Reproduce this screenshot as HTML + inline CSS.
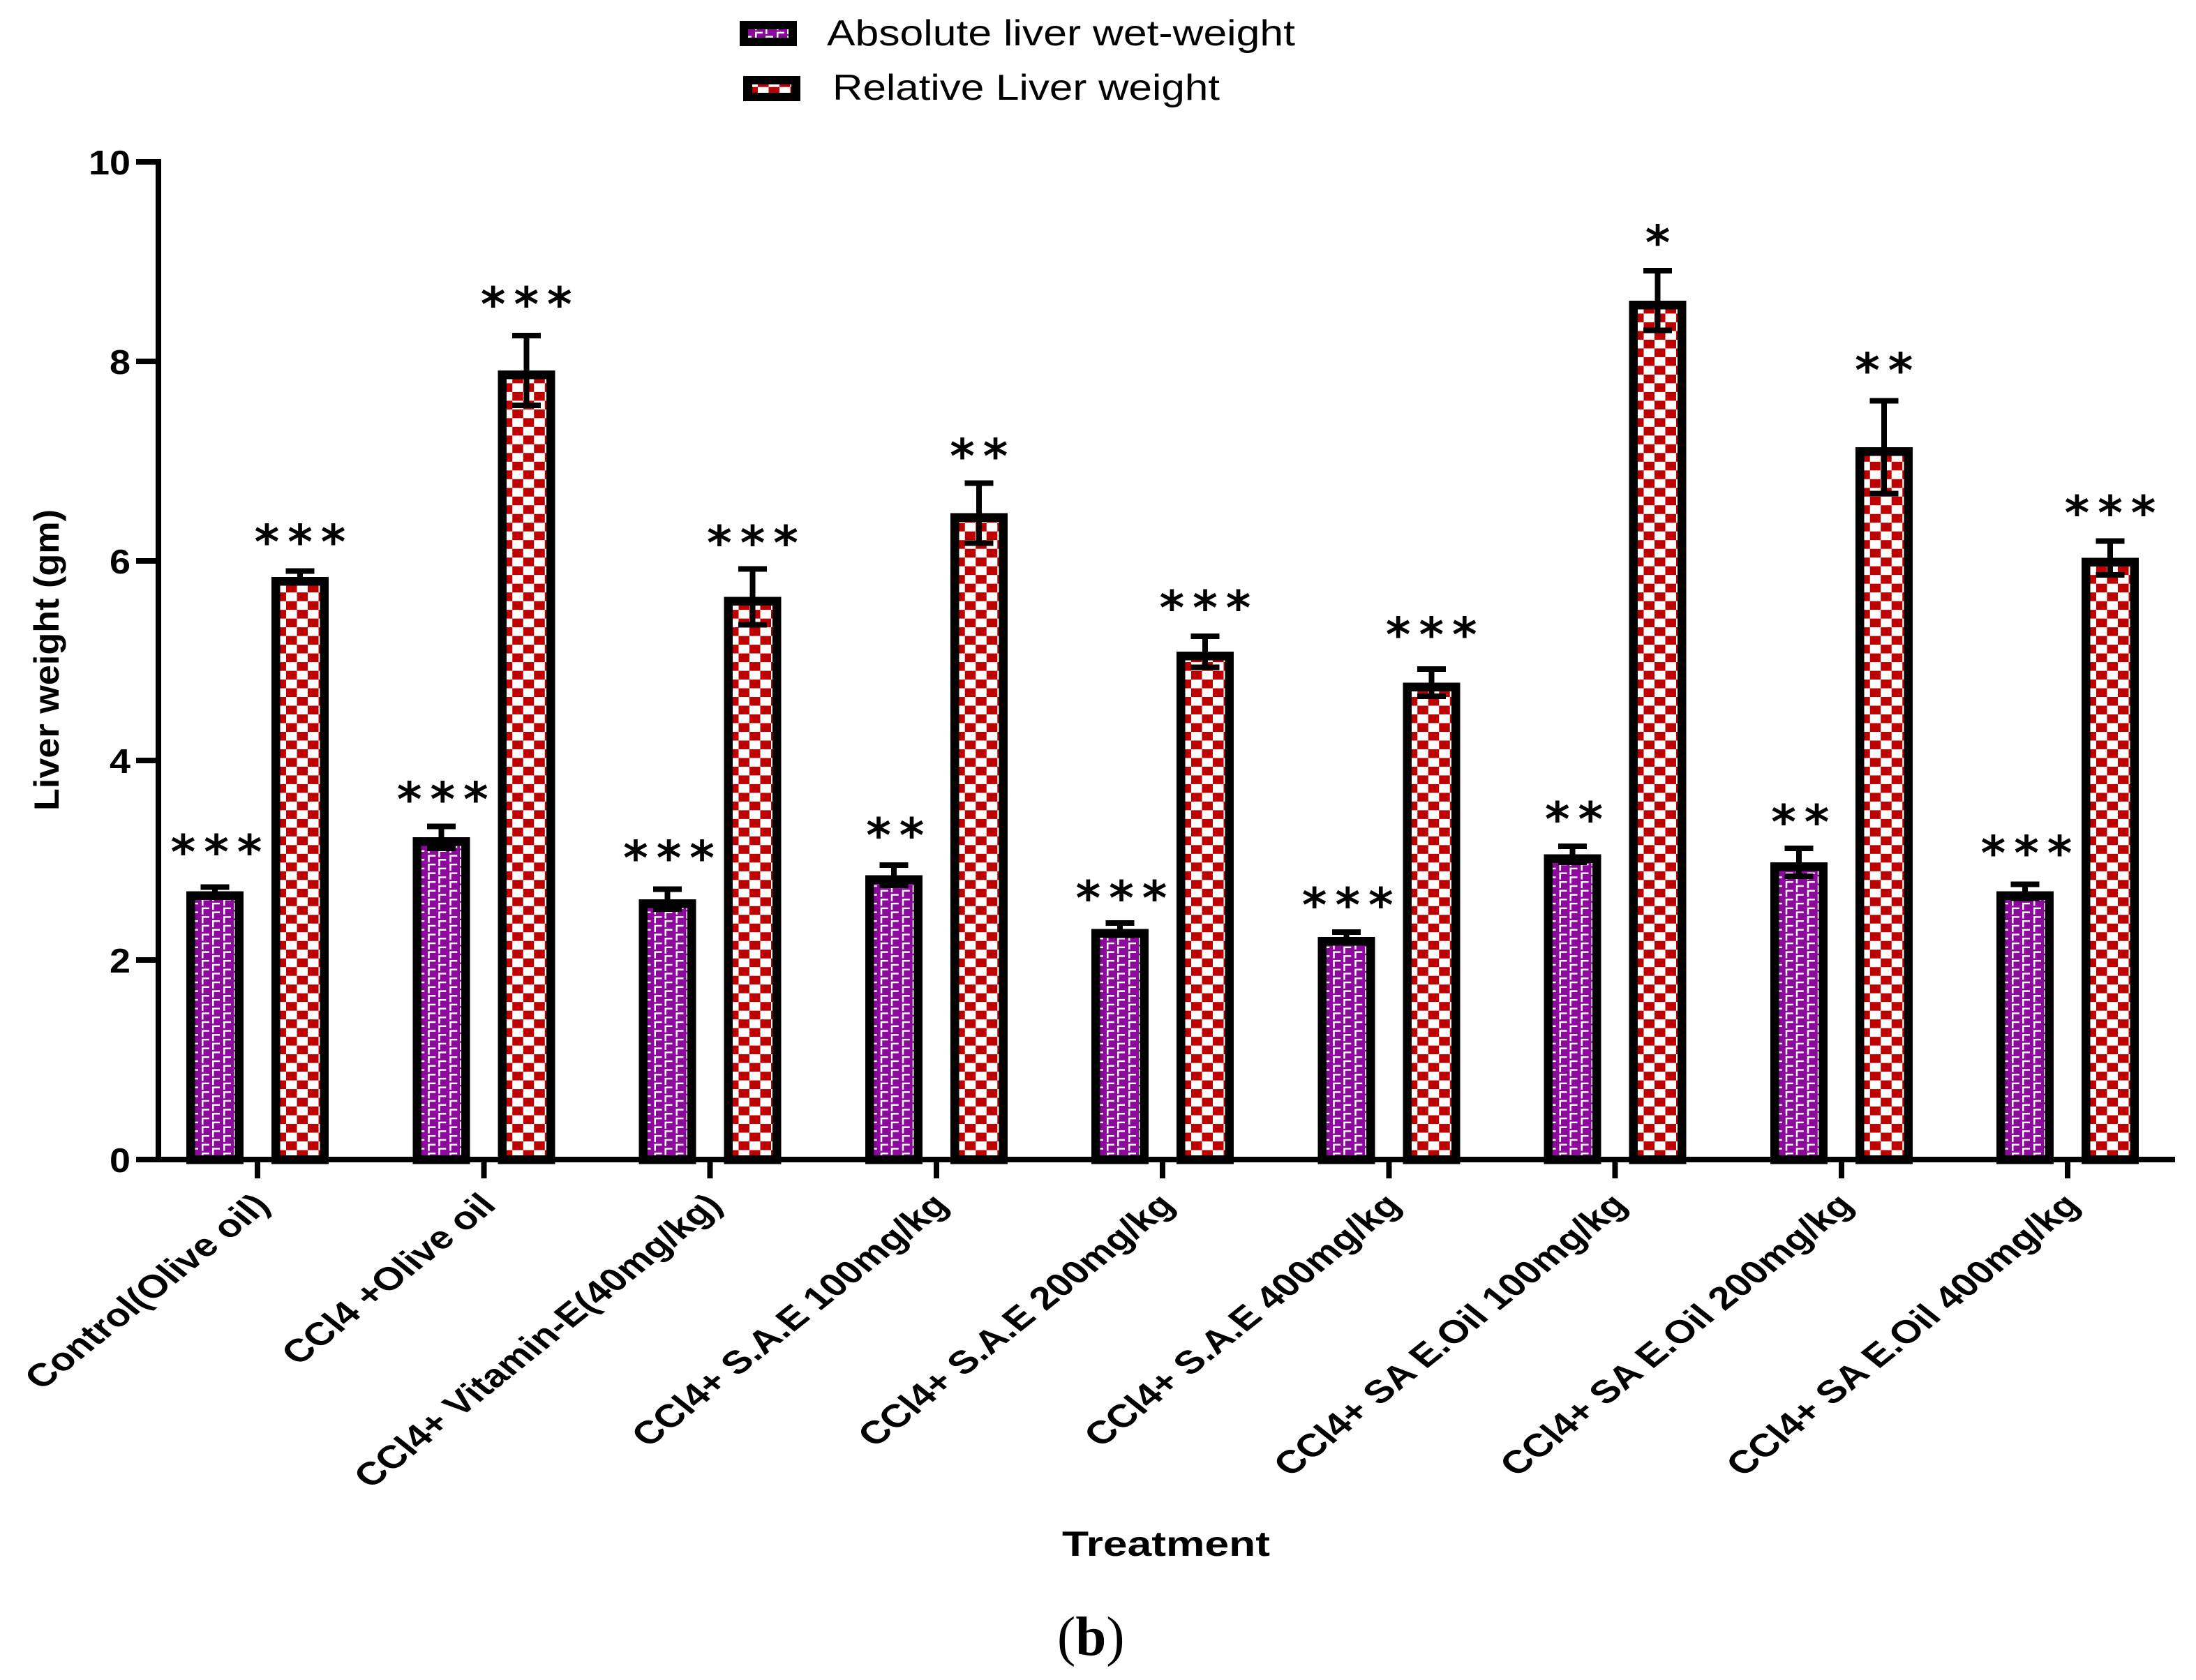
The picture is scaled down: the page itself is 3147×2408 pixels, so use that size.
<!DOCTYPE html>
<html>
<head>
<meta charset="utf-8">
<title>Liver weight chart</title>
<style>
html,body{margin:0;padding:0;background:#fff;}
svg{display:block;}
text{fill:#000;font-family:"Liberation Sans",sans-serif;}
</style>
</head>
<body>
<svg id="chart" xmlns="http://www.w3.org/2000/svg" width="3147" height="2408" viewBox="0 0 3147 2408" shape-rendering="crispEdges">
<defs>
<pattern id="pat-purple" patternUnits="userSpaceOnUse" x="22" y="1589.3" width="31" height="12.55">
<rect width="31" height="12.55" fill="#8b0a9c"/>
<path d="M0 0h11v2.2h-8.4v7.8h-2.6z" fill="#fff"/>
<path d="M15 6h11v2.4h-8.4v4.15h-2.6z" fill="#fff"/>
<path d="M15 0h2.6v3.5h-2.6z" fill="#fff"/>
</pattern>
<pattern id="pat-red" patternUnits="userSpaceOnUse" x="5.5" y="1648.5" width="31" height="24.98">
<rect width="31" height="24.98" fill="#fff"/>
<rect x="0" y="0" width="15.5" height="12.49" fill="#bd0000"/>
<rect x="15.5" y="12.49" width="15.5" height="12.49" fill="#bd0000"/>
</pattern>
</defs>
<rect width="3147" height="2408" fill="#fff"/>

<g>
<g>
<rect x="1060" y="30" width="82" height="36" fill="#000"/>
<g transform="translate(1060,0)"><rect x="12" y="42" width="58" height="12" fill="url(#pat-purple)"/></g>
<text x="1185" y="65" font-size="52" textLength="671" lengthAdjust="spacingAndGlyphs">Absolute liver wet-weight</text>
</g>
<g>
<rect x="1065" y="109" width="82" height="36" fill="#000"/>
<g transform="translate(1065,0)"><rect x="13" y="121" width="56" height="12" fill="url(#pat-red)"/></g>
<text x="1193" y="143" font-size="52" textLength="555" lengthAdjust="spacingAndGlyphs">Relative Liver weight</text>
</g>
</g>

<g id="bars"></g>
<g id="axes"></g>
<g id="annotations"></g>

<text transform="translate(84,1162) rotate(-90)" font-size="50" font-weight="700" textLength="432" lengthAdjust="spacingAndGlyphs">Liver weight (gm)</text>
<text x="1522" y="2230" font-size="50" font-weight="700" textLength="298" lengthAdjust="spacingAndGlyphs">Treatment</text>
<text x="1515" y="2372" font-size="79" style="font-family:'Liberation Serif',serif">(<tspan font-weight="700">b</tspan>)</text>
</svg>

<script>
const categories = ["Control(Olive oil)", "CCl4 +Olive oil", "CCl4+ Vitamin-E(40mg/kg)", "CCl4+ S.A.E 100mg/kg", "CCl4+ S.A.E 200mg/kg", "CCl4+ S.A.E 400mg/kg", "CCl4+ SA E.Oil 100mg/kg", "CCl4+ SA E.Oil 200mg/kg", "CCl4+ SA E.Oil 400mg/kg"];
const absoluteValues = [2.69, 3.23, 2.61, 2.85, 2.31, 2.23, 3.06, 2.98, 2.69];
const absoluteErrors = [0.04, 0.11, 0.1, 0.1, 0.06, 0.05, 0.08, 0.14, 0.07];
const relativeValues = [5.84, 7.91, 5.64, 6.48, 5.09, 4.78, 8.61, 7.14, 6.03];
const relativeErrors = [0.06, 0.35, 0.28, 0.3, 0.155, 0.135, 0.3, 0.465, 0.17];
const absoluteStars = ["***", "***", "***", "**", "***", "***", "**", "**", "***"];
const relativeStars = ["***", "***", "***", "**", "***", "***", "*", "**", "***"];
const absoluteStarLevels = [3.16, 3.69, 3.1, 3.33, 2.7, 2.63, 3.49, 3.46, 3.15];
const relativeStarLevels = [6.27, 8.65, 6.26, 7.13, 5.61, 5.34, 9.27, 7.99, 6.56];
const yTicks = [0, 2, 4, 6, 8, 10];

const NS = "http://www.w3.org/2000/svg";
function yScale(v) { return 1662 - 143 * v; }
function xScale(i) { return 369 + 324.25 * i; }
function make(tag, parent) {
  const el = document.createElementNS(NS, tag);
  parent.appendChild(el);
  return el;
}
function box(parent, x, y, w, h) {
  const r = make("rect", parent);
  r.setAttribute("x", x);
  r.setAttribute("y", y);
  r.setAttribute("width", w);
  r.setAttribute("height", h);
  r.setAttribute("fill", "#000");
  return r;
}
const barsG = document.getElementById("bars");
const axesG = document.getElementById("axes");
const annG = document.getElementById("annotations");
const BASE = yScale(0);

function drawBar(i, offset, value, err, patId, name) {
  const left = xScale(i) + offset;
  const top = yScale(value);
  const g = make("g", barsG);
  
  
  g.setAttribute("transform", "translate(" + left + ",0)");
  const r = make("rect", g);
  
  
  r.setAttribute("x", 6.25);
  r.setAttribute("y", top + 6.25);
  r.setAttribute("width", 69.5);
  r.setAttribute("height", BASE - top - 6.25);
  r.setAttribute("fill", "url(#" + patId + ")");
  r.setAttribute("stroke", "#000");
  r.setAttribute("stroke-width", 12.5);
  const hi = yScale(value + err);
  const lo = yScale(value - err);
  const stem = box(g, 37, hi, 8, lo - hi);
  
  
  const capT = box(g, 20.5, hi - 4, 41, 8);
  
  
  const capB = box(g, 20.5, lo - 4, 41, 8);
  
  
}
function drawStars(i, offset, level, stars, name) {
  const t = make("text", annG);
  
  
  t.setAttribute("x", xScale(i) + offset);
  t.setAttribute("y", yScale(level) + 35);
  t.setAttribute("text-anchor", "middle");
  t.setAttribute("font-size", "68");
  t.setAttribute("letter-spacing", "12");
  t.setAttribute("font-weight", "700");
  t.setAttribute("style", "font-family:'DejaVu Sans',sans-serif");
  t.textContent = stars;
}
categories.forEach(function (c, i) {
  drawBar(i, -102, absoluteValues[i], absoluteErrors[i], "pat-purple", "bar-absolute-" + (i + 1));
  drawBar(i, 20, relativeValues[i], relativeErrors[i], "pat-red", "bar-relative-" + (i + 1));
  drawStars(i, -53, absoluteStarLevels[i], absoluteStars[i], "stars-absolute-" + (i + 1));
  drawStars(i, 67, relativeStarLevels[i], relativeStars[i], "stars-relative-" + (i + 1));
});

const yAxisLine = box(axesG, 223, yScale(10) - 4, 8, BASE - yScale(10) + 8);


const xAxisLine = box(axesG, 195, BASE - 4, 3117 - 195, 8);



yTicks.forEach(function (v) {
  const tk = box(axesG, 195, yScale(v) - 4, 28, 8);
  
  
  const t = make("text", axesG);
  
  
  const label = String(v);
  t.setAttribute("x", 187 - 30 * label.length);
  t.setAttribute("y", yScale(v) + 18);
  t.setAttribute("font-size", "49");
  t.setAttribute("font-weight", "700");
  t.setAttribute("textLength", 30 * label.length);
  t.setAttribute("lengthAdjust", "spacingAndGlyphs");
  t.textContent = label;
});

categories.forEach(function (c, i) {
  const tk = box(axesG, xScale(i) - 4, BASE + 4, 8, 23);
  
  
  const t = make("text", axesG);
  
  
  t.setAttribute("transform", "translate(" + (xScale(i) + 20) + "," + (BASE + 68) + ") scale(1.25,1) rotate(-45)");
  t.setAttribute("text-anchor", "end");
  t.setAttribute("font-size", "46");
  t.setAttribute("font-weight", "700");
  t.textContent = c;
});
</script>
</body>
</html>
